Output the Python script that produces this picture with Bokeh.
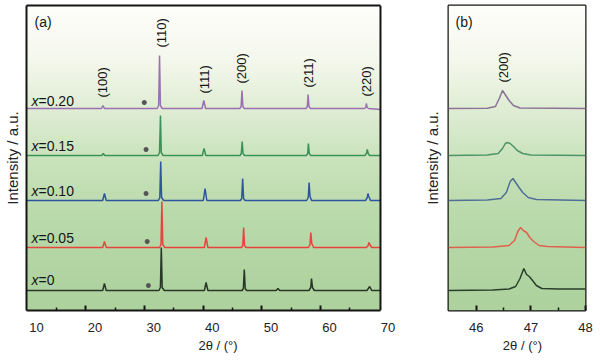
import numpy as np
from bokeh.plotting import figure
from bokeh.layouts import row
from bokeh.models import Range1d, FixedTicker, Label, LinearAxis, Span
from bokeh.core.properties import value
from bokeh.embed import file_html
from bokeh.resources import INLINE

FONT = "Liberation Sans"
NB = "\u00a0"
EDGE = "#151515"

# ---------------- data ----------------
sample_values = ["=0", "=0.05", "=0.10", "=0.15", "=0.20"]
offsets = [20, 63, 110, 155, 202]
colors_a = ["#283828", "#e6453f", "#2f55a0", "#3a925a", "#9d70b3"]
colors_b = ["#2a3f2a", "#e0604f", "#4f6f95", "#4d9466", "#8c7295"]

hkl_labels = ["(100)", "(110)", "(111)", "(200)", "(211)", "(220)"]
hkl_x = [21.3, 31.3, 38.7, 45.06, 56.4, 66.26]

a_tick_labels = [10, 20, 30, 40, 50, 60, 70]
b_tick_labels = [46, 47, 48]

# panel (a): 2theta / relative intensity (above each baseline)
a_x_0 = [8.3, 21.3, 21.6, 21.9, 30.9, 31.15, 31.3, 31.45, 31.8, 38.65, 38.94, 39.25, 45.1, 45.3, 45.46, 45.62, 45.85, 50.9, 51.2, 51.5, 56.5, 56.8, 56.93, 57.1, 57.4, 66.4, 66.85, 67.2, 68.7]
a_y_0 = [0, 0, 7, 0, 0, 3, 43, 3, 0, 0, 8, 0, 0, 2, 21, 2, 0, 0, 2, 0, 0, 3, 12, 3, 0, 0, 4, 0, 0]
a_x_1 = [8.3, 21.3, 21.6, 21.9, 31.0, 31.25, 31.4, 31.55, 31.9, 38.65, 38.94, 39.25, 45.0, 45.2, 45.35, 45.5, 45.75, 56.4, 56.68, 56.81, 56.98, 57.3, 66.3, 66.6, 66.73, 66.9, 67.2, 68.7]
a_y_1 = [0, 0, 6, 0, 0, 3, 46, 3, 0, 0, 10, 0, 0, 2, 20, 2, 0, 0, 3, 15, 4, 0, 0, 2, 5, 3, 0, 0]
a_x_2 = [8.3, 21.3, 21.6, 21.9, 30.8, 31.05, 31.2, 31.35, 31.7, 38.47, 38.77, 39.07, 44.8, 45.02, 45.18, 45.34, 45.6, 56.1, 56.38, 56.52, 56.68, 56.95, 66.15, 66.45, 66.56, 66.7, 67.0, 68.7]
a_y_2 = [0, 0, 7, 0, 0, 3, 39, 3, 0, 0, 12, 0, 0, 2, 22, 2, 0, 0, 3, 18, 4, 0, 0, 3, 7, 4, 0, 0]
a_x_3 = [8.3, 21.15, 21.4, 21.65, 30.75, 31.0, 31.16, 31.3, 31.6, 38.3, 38.6, 38.9, 44.75, 44.95, 45.1, 45.25, 45.5, 56.05, 56.28, 56.4, 56.55, 56.8, 66.05, 66.3, 66.45, 66.6, 66.85, 68.7]
a_y_3 = [0, 0, 2, 0, 0, 3, 40, 3, 0, 0, 7, 0, 0, 2, 14, 2, 0, 0, 2, 12, 2, 0, 0, 2, 6, 2, 0, 0]
a_x_4 = [8.3, 21.1, 21.35, 21.6, 30.6, 30.85, 31.0, 31.15, 31.45, 38.25, 38.55, 38.85, 44.7, 44.92, 45.07, 45.22, 45.45, 56.0, 56.22, 56.35, 56.5, 56.75, 65.95, 66.18, 66.29, 66.42, 66.65, 68.7]
a_y_4 = [0, 0, 3, 0, 0, 3, 53, 3, 0, 0, 8, 0, 0, 2, 18, 2, 0, 0, 2, 14, 2, 0, 0, 1, 5, 1, 0, -1]

# impurity markers (*)
star_x = [29.1, 28.9, 28.7, 28.7, 28.4]
star_y = [5, 6, 7, 6, 6]

# panel (b): zoom on (200)
b_x_0 = [45.49, 46.3, 46.6, 46.72, 46.8, 46.87, 46.92, 46.97, 47.03, 47.1, 47.2, 47.5, 48.0]
b_y_0 = [0, 0.5, 1.5, 4, 12, 22, 16, 14, 10, 5, 2, 1.5, 1.5]
b_x_1 = [45.49, 46.3, 46.6, 46.7, 46.76, 46.81, 46.86, 46.92, 46.98, 47.05, 47.15, 47.3, 48.0]
b_y_1 = [0, 0.5, 2, 7, 16, 20, 17, 15, 10, 6, 2, 1, 0]
b_x_2 = [45.49, 46.2, 46.45, 46.55, 46.62, 46.67, 46.72, 46.77, 46.85, 46.95, 47.1, 48.0]
b_y_2 = [0, 0.5, 2, 8, 19, 22, 18, 14, 8, 3, 1, 0]
b_x_3 = [45.49, 46.2, 46.4, 46.48, 46.53, 46.57, 46.62, 46.68, 46.75, 46.85, 47.0, 48.0]
b_y_3 = [0, 0.5, 2, 7, 12, 13, 12, 9, 5, 2, 0.5, 0]
b_x_4 = [45.49, 46.2, 46.35, 46.42, 46.48, 46.54, 46.6, 46.68, 46.8, 48.0]
b_y_4 = [0, 0.3, 2, 10, 18, 13, 8, 3, 0.5, 0]

a_xs = [a_x_0, a_x_1, a_x_2, a_x_3, a_x_4]
a_ys = [a_y_0, a_y_1, a_y_2, a_y_3, a_y_4]
b_xs = [b_x_0, b_x_1, b_x_2, b_x_3, b_x_4]
b_ys = [b_y_0, b_y_1, b_y_2, b_y_3, b_y_4]

Y0, Y1 = 0, 305
XA0, XA1 = 8.3, 68.7          # visible box of panel (a)
XA_FRAME_END = 70.58          # frame extends a little so the "70" label can show
XB0, XB1 = 45.49, 48.0


# ---------------- background gradient ----------------
def gradient():
    n = 305
    vals = np.linspace(Y0, Y1, n)
    pix = 310 - vals
    sp = [5, 60, 110, 160, 210, 260, 310]
    sc = [(254, 254, 251), (245, 248, 237), (223, 237, 212), (202, 227, 188),
          (187, 219, 173), (179, 214, 164), (173, 210, 157)]
    img = np.empty((n, 2), dtype=np.uint32)
    v = img.view(dtype=np.uint8).reshape((n, 2, 4))
    for k in range(3):
        v[:, :, k] = np.interp(pix, sp, [c[k] for c in sc])[:, None].astype(np.uint8)
    v[:, :, 3] = 255
    return img


def base_style(p, ylabel_standoff):
    p.xgrid.visible = False
    p.ygrid.visible = False
    p.background_fill_color = "white"
    p.border_fill_color = "white"
    ay = p.yaxis[0]
    ay.ticker = FixedTicker(ticks=[])
    ay.axis_line_color = None
    ay.major_tick_in = 0
    ay.major_tick_out = 0
    ay.minor_tick_in = 0
    ay.minor_tick_out = 0
    ay.axis_label = "Intensity / a.u."
    ay.axis_label_text_font = FONT
    ay.axis_label_text_font_size = "15px"
    ay.axis_label_text_font_style = "normal"
    ay.axis_label_text_color = "#222222"
    ay.axis_label_standoff = ylabel_standoff


def label_style(ax, title):
    ax.major_label_text_font = FONT
    ax.major_label_text_font_size = "13px"
    ax.major_label_text_color = "#222222"
    ax.major_label_standoff = 12
    ax.axis_label = title
    ax.axis_label_text_font = FONT
    ax.axis_label_text_font_size = "13px"
    ax.axis_label_text_font_style = "normal"
    ax.axis_label_text_color = "#222222"
    ax.axis_label_standoff = 3


# ---------------- panel (a) ----------------
pa = figure(width=420, height=362, x_range=Range1d(XA0, XA_FRAME_END), y_range=Range1d(Y0, Y1),
            output_backend="svg", toolbar_location=None,
            min_border_left=25, min_border_right=29, min_border_top=5, min_border_bottom=52)
base_style(pa, 6)
pa.outline_line_color = None

# box edges: left axis line, bottom/top axis lines limited to the box, right span
pa.yaxis[0].axis_line_color = EDGE
pa.yaxis[0].axis_line_width = 2

# axis nearest the frame: bottom edge + long tick marks (as placed in the original)
tx = pa.xaxis[0]
tx.bounds = (XA0, XA1)
tx.ticker = FixedTicker(ticks=[], minor_ticks=[18.45, 28.45, 38.45, 48.45, 58.45])
tx.axis_line_color = EDGE
tx.axis_line_width = 2
tx.major_tick_in = 0
tx.major_tick_out = 0
tx.minor_tick_in = 5
tx.minor_tick_out = 0
tx.minor_tick_line_width = 2
tx.minor_tick_line_color = EDGE

# label axis (numbers + short tick marks)
lx = LinearAxis(ticker=FixedTicker(ticks=a_tick_labels,
                                   minor_ticks=[13.45, 23.45, 33.45, 43.45, 53.45, 63.45]))
lx.axis_line_color = None
lx.major_tick_line_color = None
lx.major_tick_in = 0
lx.major_tick_out = 0
lx.minor_tick_in = 3
lx.minor_tick_out = 0
lx.minor_tick_line_width = 1.5
lx.minor_tick_line_color = EDGE
label_style(lx, NB * 5 + "2θ / (°)")
pa.add_layout(lx, "below")

top = LinearAxis(ticker=FixedTicker(ticks=[]), bounds=(XA0, XA1))
top.axis_line_color = EDGE
top.axis_line_width = 2
top.major_tick_in = 0
top.major_tick_out = 0
top.minor_tick_in = 0
top.minor_tick_out = 0
pa.add_layout(top, "above")

pa.image_rgba(image=[gradient()], x=XA0, y=Y0, dw=XA1 - XA0, dh=Y1 - Y0)
pa.add_layout(Span(location=XA1, dimension="height", line_color=EDGE, line_width=2))

for i in range(5):
    ys = np.array(a_ys[i], dtype=float) + offsets[i]
    pa.line(a_xs[i], ys, line_color=colors_a[i], line_width=1.5)

pa.scatter(star_x, np.array(star_y) + np.array(offsets), marker="asterisk", size=5,
           line_color="#555555", line_width=1.5)

pa.text(x=hkl_x, y=[213, 263, 217, 227, 223, 214], text=hkl_labels, angle=np.pi / 2,
        text_align="left", text_baseline="middle", text_font=value(FONT),
        text_font_size="13px", text_color=EDGE)

lab_y = [31, 73, 120, 165, 210]
pa.text(x=[9.15] * 5, y=lab_y, text=["x"] * 5, text_font=value(FONT), text_font_style="italic",
        text_font_size="14px", text_baseline="alphabetic", text_align="left", text_color=EDGE)
pa.text(x=[10.35] * 5, y=lab_y, text=sample_values, text_font=value(FONT),
        text_font_size="14px", text_baseline="alphabetic", text_align="left", text_color=EDGE)

pa.add_layout(Label(x=9.66, y=297, text="(a)", text_font=FONT, text_font_size="14px",
                    text_baseline="top", text_align="left", text_color=EDGE))

# ---------------- panel (b) ----------------
pb = figure(width=180, height=362, x_range=Range1d(XB0, XB1), y_range=Range1d(Y0, Y1),
            output_backend="svg", toolbar_location=None,
            min_border_left=28, min_border_right=15, min_border_top=5, min_border_bottom=52)
base_style(pb, 8)
pb.outline_line_color = EDGE
pb.outline_line_width = 2
bx = pb.xaxis[0]
bx.ticker = FixedTicker(ticks=b_tick_labels, minor_ticks=[46.5, 47.5])
bx.axis_line_color = None
bx.major_tick_in = 5
bx.major_tick_out = 0
bx.minor_tick_in = 3
bx.minor_tick_out = 0
bx.major_tick_line_width = 2
bx.minor_tick_line_width = 1.5
bx.major_tick_line_color = EDGE
bx.minor_tick_line_color = EDGE
label_style(bx, NB * 3 + "2θ / (°)")

pb.image_rgba(image=[gradient()], x=XB0, y=Y0, dw=XB1 - XB0, dh=Y1 - Y0)

for i in range(5):
    ys = np.array(b_ys[i], dtype=float) + offsets[i]
    pb.line(b_xs[i], ys, line_color=colors_b[i], line_width=1.5)

pb.text(x=[46.49], y=[228], text=["(200)"], angle=np.pi / 2, text_align="left",
        text_baseline="middle", text_font=value(FONT), text_font_size="13px", text_color=EDGE)
pb.add_layout(Label(x=45.62, y=297, text="(b)", text_font=FONT, text_font_size="14px",
                    text_baseline="top", text_align="left", text_color=EDGE))

layout = row(pa, pb)
open("out.html", "w").write(file_html(layout, INLINE))
